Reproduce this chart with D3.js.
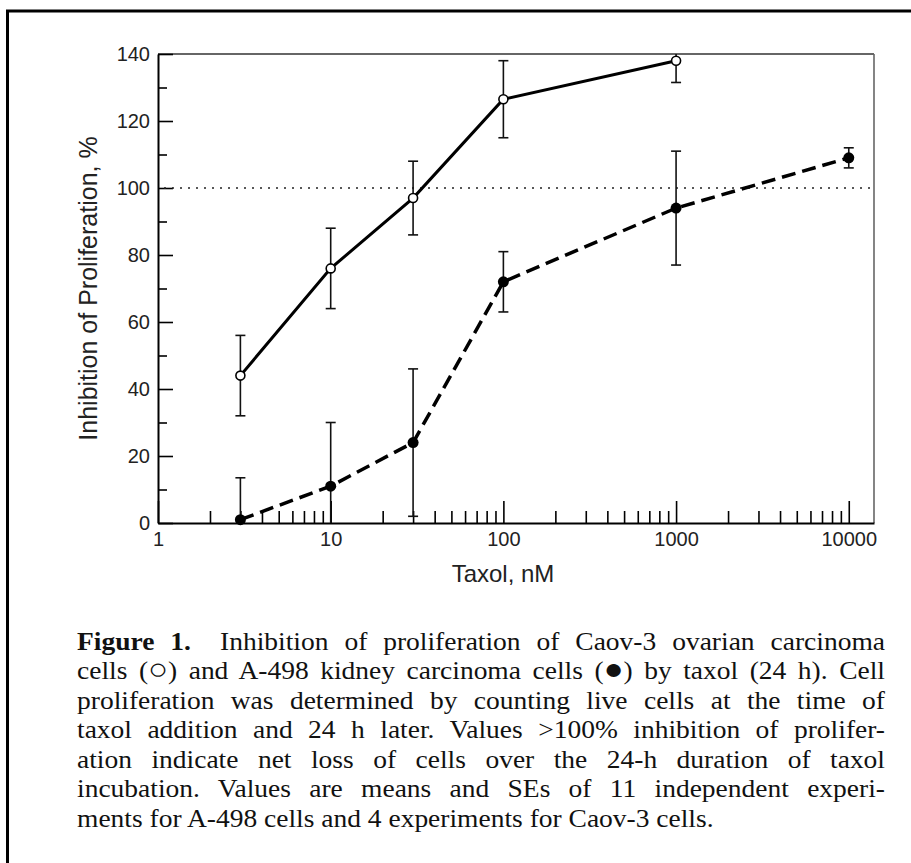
<!DOCTYPE html>
<html>
<head>
<meta charset="utf-8">
<script src="https://cdn.jsdelivr.net/npm/d3@7"></script>
<style>
  body { margin: 0; background: #fff; }
  svg { display: block; }
</style>
</head>
<body>
<div id="chart"></div>
<script>
// values
var doses = [3, 10, 30, 100, 1000, 10000];
var caovMean = [44, 76, 97, 126.5, 138];        // Caov-3, open circles
var caovSE = [12, 12, 11, 11.5, 6.5];
var a498Mean = [1, 11, 24, 72, 94, 109];        // A-498, filled circles
var a498SE = [12.5, 19, 22, 9, 17, 3];
var xTicks = [1, 10, 100, 1000, 10000];
var yTicks = [0, 20, 40, 60, 80, 100, 120, 140];
var yMinor = [10, 30, 50, 70, 90, 110, 130];
var captionLines = [
  "Inhibition of proliferation of Caov-3 ovarian carcinoma",
  "cells (\u25CB) and A-498 kidney carcinoma cells (\u25CF) by taxol (24 h). Cell",
  "proliferation was determined by counting live cells at the time of",
  "taxol addition and 24 h later. Values >100% inhibition of prolifer-",
  "ation indicate net loss of cells over the 24-h duration of taxol",
  "incubation. Values are means and SEs of 11 independent experi-",
  "ments for A-498 cells and 4 experiments for Caov-3 cells."
];

var W = 911, H = 863;
var svg = d3.select("#chart").append("svg")
  .attr("width", W).attr("height", H);

// outer frame (runs off the right and bottom edge)
svg.append("rect")
  .attr("x", 7.5).attr("y", 11).attr("width", W + 20).attr("height", H + 20)
  .attr("fill", "none").attr("stroke", "#000").attr("stroke-width", 3);

var x = d3.scaleLog().domain([1, 14000]).range([158, 874]);
var y = d3.scaleLinear().domain([0, 140]).range([523, 54]);

//minor x ticks 2..9 in every decade
var xMinor = [];
[1, 10, 100, 1000].forEach(function(dec) {
  for (var k = 2; k <= 9; k++) xMinor.push(k * dec);
});

var font = "'Liberation Sans', Arial, Helvetica, sans-serif";

// top and right frame lines of the plot
svg.append("line").attr("x1", x.range()[0]).attr("x2", x.range()[1])
  .attr("y1", y(140)).attr("y2", y(140))
  .attr("stroke", "#333").attr("stroke-width", 1.6);
svg.append("line").attr("x1", x.range()[1]).attr("x2", x.range()[1])
  .attr("y1", y(140)).attr("y2", y(0))
  .attr("stroke", "#666").attr("stroke-width", 1.6);

// y axis
svg.append("g").attr("transform", "translate(" + x.range()[0] + ",0)")
  .call(d3.axisLeft(y).tickValues(yTicks).tickSize(-15).tickSizeOuter(0).tickPadding(8));
svg.append("g").attr("transform", "translate(" + x.range()[0] + ",0)")
  .call(d3.axisLeft(y).tickValues(yMinor).tickSize(-9).tickSizeOuter(0).tickFormat(""))
  .select(".domain").remove();

// x axis
svg.append("g").attr("transform", "translate(0," + y(0) + ")")
  .call(d3.axisBottom(x).tickValues(xTicks).tickSize(-22).tickSizeOuter(0)
    .tickPadding(9).tickFormat(d3.format("d")));
svg.append("g").attr("transform", "translate(0," + y(0) + ")")
  .call(d3.axisBottom(x).tickValues(xMinor).tickSize(-12).tickSizeOuter(0).tickFormat(""))
  .select(".domain").remove();

svg.selectAll(".domain").attr("stroke", "#000").attr("stroke-width", 2);
svg.selectAll(".tick line").attr("stroke", "#000").attr("stroke-width", 1.6);
svg.selectAll(".tick text").attr("font-family", font).attr("font-size", 20).attr("fill", "#222");

// axis titles
svg.append("text")
  .attr("x", 503).attr("y", 582).attr("text-anchor", "middle")
  .attr("font-family", font).attr("font-size", 24).attr("fill", "#222")
  .text("Taxol, nM");
svg.append("text")
  .attr("transform", "translate(97," + ((y(0) + y(140)) / 2) + ") rotate(-90)")
  .attr("text-anchor", "middle")
  .attr("font-family", font).attr("font-size", 25).attr("fill", "#222")
  .text("Inhibition of Proliferation, %");

// 100% reference line
svg.append("line")
  .attr("x1", x(1) + 6).attr("x2", x.range()[1] - 4)
  .attr("y1", y(100)).attr("y2", y(100))
  .attr("stroke", "#222").attr("stroke-width", 1.6)
  .attr("stroke-dasharray", "2,6");

svg.append("clipPath").attr("id", "plotclip").append("rect")
  .attr("x", x.range()[0]).attr("y", y(140))
  .attr("width", x.range()[1] - x.range()[0]).attr("height", y(0) - y(140));

var caov = caovMean.map(function(m, i) { return {dose: doses[i], mean: m, se: caovSE[i]}; });
var a498 = a498Mean.map(function(m, i) { return {dose: doses[i], mean: m, se: a498SE[i]}; });

var plot = svg.append("g").attr("clip-path", "url(#plotclip)");

function drawErrors(data) {
  var g = plot.append("g").attr("stroke", "#111").attr("stroke-width", 1.6);
  data.forEach(function(d) {
    var cx = x(d.dose);
    g.append("line").attr("x1", cx).attr("x2", cx)
      .attr("y1", y(d.mean - d.se)).attr("y2", y(d.mean + d.se));
    [d.mean - d.se, d.mean + d.se].forEach(function(v) {
      if (v > 0) g.append("line").attr("x1", cx - 5).attr("x2", cx + 5)
        .attr("y1", y(v)).attr("y2", y(v));
    });
  });
}
drawErrors(caov);
drawErrors(a498);

var line = d3.line()
  .x(function(d) { return x(d.dose); })
  .y(function(d) { return y(d.mean); });

plot.append("path").datum(caov).attr("d", line)
  .attr("fill", "none").attr("stroke", "#000").attr("stroke-width", 3);
plot.append("path").datum(a498).attr("d", line)
  .attr("fill", "none").attr("stroke", "#000").attr("stroke-width", 3.5)
  .attr("stroke-dasharray", "14,7");

svg.append("g").selectAll("circle").data(caov).enter().append("circle")
  .attr("cx", function(d) { return x(d.dose); })
  .attr("cy", function(d) { return y(d.mean); })
  .attr("r", 4.5).attr("fill", "#fff").attr("stroke", "#000").attr("stroke-width", 1.6);
svg.append("g").selectAll("circle").data(a498).enter().append("circle")
  .attr("cx", function(d) { return x(d.dose); })
  .attr("cy", function(d) { return y(d.mean); })
  .attr("r", 5.5).attr("fill", "#000");

// caption: serif stretched a bit sideways to get a Palatino-like width, lines justified
var capLeft = 77, capRight = 885, capTop = 650, capStep = 29.5, stretch = 1.1;
var serif = "'Liberation Serif', 'Times New Roman', serif";
var cap = svg.append("g")
  .attr("transform", "translate(" + capLeft + ",0) scale(" + stretch + ",1)");
var target = (capRight - capLeft) / stretch;

captionLines.forEach(function(txt, i) {
  var t = cap.append("text")
    .attr("x", 0).attr("y", capTop + i * capStep)
    .attr("font-family", serif).attr("font-size", 25).attr("fill", "#111");
  if (i === 0) {
    t.append("tspan").attr("font-weight", "bold").text("Figure 1.");
    t.append("tspan").attr("dx", 12).text(" " + txt);
  } else {
    //put the circle symbols in a slightly bigger size so they look like the printed ones
    var parts = txt.split(/([\u25CB\u25CF])/);
    parts.forEach(function(p) {
      if (p === "\u25CB" || p === "\u25CF") {
        t.append("tspan").attr("font-size", 30).text(p);
      } else if (p.length) {
        t.append("tspan").text(p);
      }
    });
  }
  if (i < captionLines.length - 1) {
    var len = t.node().getComputedTextLength() + (i === 0 ? 12 : 0);
    var gaps = (txt.match(/ /g) || []).length + (i === 0 ? 2 : 0);
    var extra = (target - len) / gaps;
    t.attr("word-spacing", extra);
  }
});
</script>
</body>
</html>
